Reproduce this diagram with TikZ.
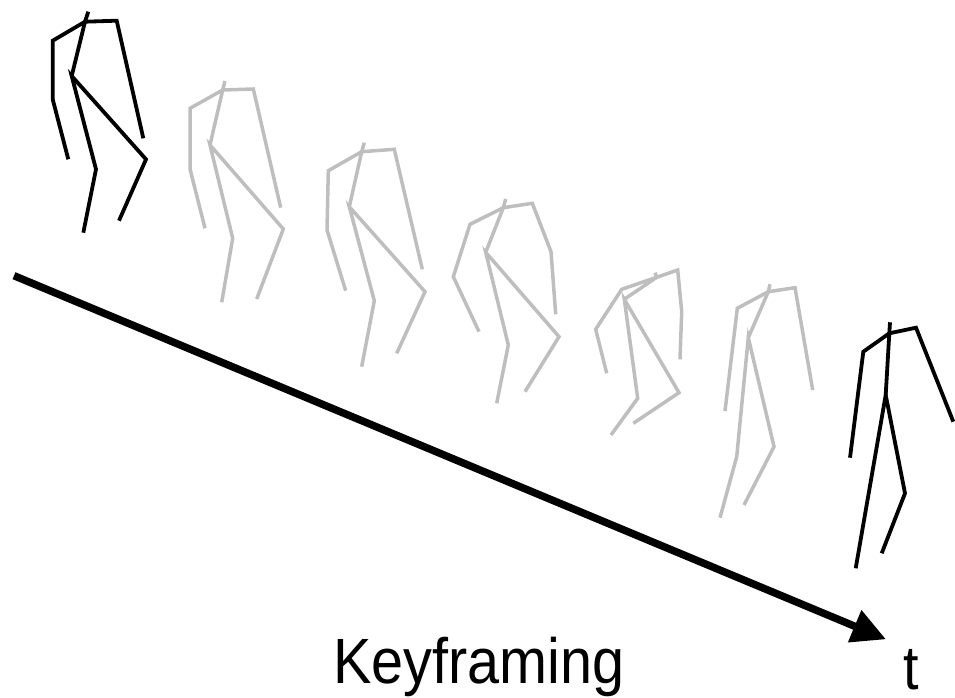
\documentclass[tikz,border=0pt]{standalone}
\usepackage{fontspec}
\setmainfont{Liberation Sans}
\usetikzlibrary{arrows.meta}
\definecolor{poseGray}{RGB}{190,190,190}
\tikzset{
  keypose/.style={draw=black, line width=3.8pt, line join=miter},
  midpose/.style={draw=poseGray, line width=3.5pt, line join=miter},
  timeaxis/.style={draw=black, line width=7.5pt, -{Triangle[length=34pt,width=33pt]}},
}
\begin{document}
\begin{tikzpicture}[x=1pt,y=-1pt]
\useasboundingbox (0,0) rectangle (955,698);

% first key pose
\draw[keypose] (88.3,11.7) -- (85,21.7) -- (71.7,76);
\draw[keypose] (68.3,159.3) -- (52.7,99.3) -- (52.7,40.7) -- (85,21.7) -- (116.7,20.7) -- (143.3,138.3);
\draw[keypose] (83.3,232.7) -- (96,169.3) -- (71.7,76) -- (146,159.3) -- (119,220.7);

% in-between poses
\draw[midpose] (225,81) -- (222.7,90) -- (210,145);
\draw[midpose] (205,228.3) -- (190,169) -- (190,108.3) -- (222.7,90) -- (253.3,89) -- (280.7,207.7);
\draw[midpose] (221.7,302.3) -- (232.7,238.3) -- (210,145) -- (283.3,229) -- (256.7,299);

\draw[midpose] (364.3,142.7) -- (361.7,151.7) -- (349.3,206.7);
\draw[midpose] (345.7,290.7) -- (327,230) -- (328.3,170.7) -- (361.7,151.7) -- (394.3,149.3) -- (422.3,269.3);
\draw[midpose] (361.7,366.7) -- (374.3,300.7) -- (349.3,206.7) -- (425,291.7) -- (396.7,353.3);

\draw[midpose] (505.7,199) -- (503.3,207.7) -- (485.7,252.3);
\draw[midpose] (479,331.7) -- (453.3,276.7) -- (470,224.3) -- (503.3,207.7) -- (532.3,203.3) -- (551,251.7) -- (555.7,314.3);
\draw[midpose] (496.7,403.3) -- (508.3,345) -- (485.7,252.3) -- (559,336.7) -- (525,391.7);

\draw[midpose] (655,272.7) -- (656.7,277.3) -- (624.3,299.3);
\draw[midpose] (606.7,373.3) -- (595.7,329.3) -- (621.7,289.3) -- (656.7,277.3) -- (677.7,270) -- (681.7,311.7) -- (680,359.3);
\draw[midpose] (611,435) -- (637.7,398.3) -- (624.3,299.3) -- (679,392.7) -- (633.3,423.3);

\draw[midpose] (770,284.3) -- (768.3,291.7) -- (748.3,337.7);
\draw[midpose] (725,411) -- (737.3,308.3) -- (768.3,291.7) -- (795,287.7) -- (812.7,390);
\draw[midpose] (720,517.7) -- (736.7,456.7) -- (748.3,337.7) -- (774,446.7) -- (744,505);

% last key pose
\draw[keypose] (890,322.3) -- (889.3,333.3) -- (885.7,395);
\draw[keypose] (850,457.7) -- (863.3,351.7) -- (889.3,333.3) -- (916,327.7) -- (953.3,421.7);
\draw[keypose] (855.7,568.3) -- (885.7,395) -- (905,493.3) -- (881.7,553.3);

% time axis
\coordinate (tstart) at (14,275.7);
\coordinate (tend) at (886,639.3);
\draw[timeaxis] (tstart) -- (tend);

\node[anchor=base west, inner sep=0pt] (title) at (333,683)
  {\fontsize{64}{70}\selectfont\scalebox{0.9}[1]{Keyframing}};
\node[anchor=base west, inner sep=0pt] (tlabel) at (903,689)
  {\fontsize{62}{66}\selectfont\scalebox{0.9}[1]{t}};
\end{tikzpicture}
\end{document}
